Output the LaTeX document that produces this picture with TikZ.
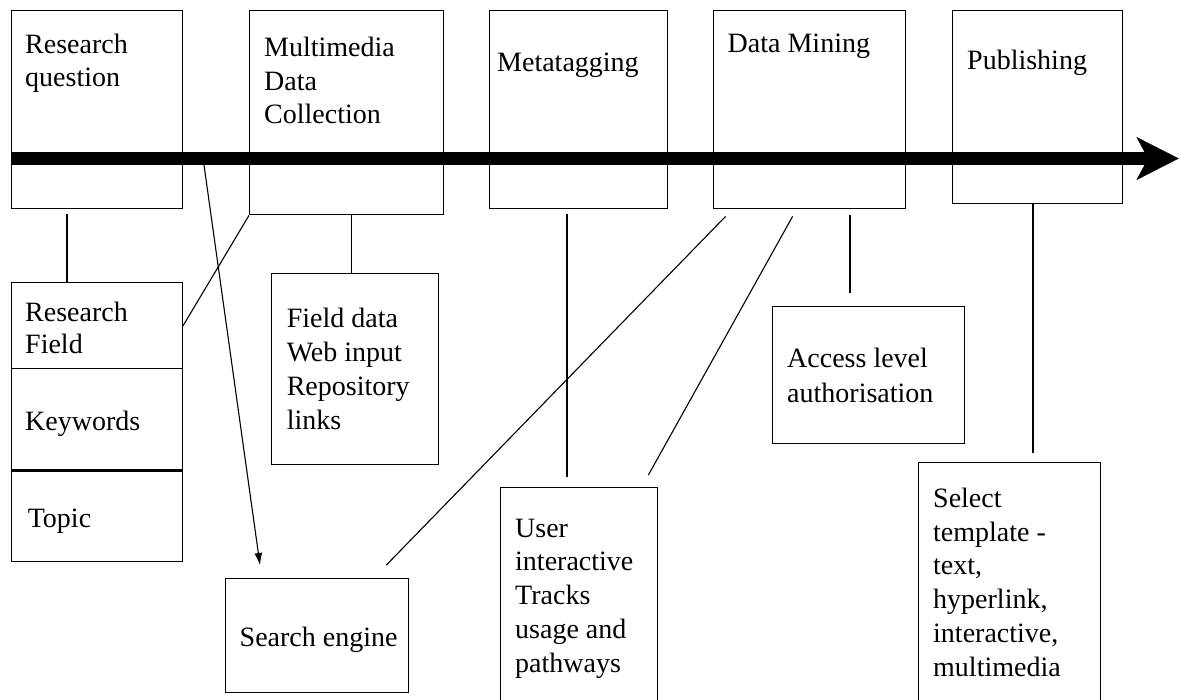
\documentclass[tikz,border=0pt]{standalone}
\usepackage{fontspec}
\setmainfont{Liberation Serif}
\usetikzlibrary{arrows.meta,calc}
\begin{document}
\begin{tikzpicture}[x=1pt,y=-1pt,
  box/.style={draw, line width=1.4pt, rectangle, inner sep=0pt, anchor=north west},
  txt/.style={anchor=base west, align=left, inner sep=0pt, font=\fontsize{28}{33.7}\selectfont},
  conn/.style={line width=1.1pt},
]
\useasboundingbox (0,0) rectangle (1180,700);
% main time line
\coordinate (ta) at (10.5,158.5);
\coordinate (tb) at (1179,158.5);
% top boxes
\node[box, minimum width=171pt, minimum height=198pt] (b1) at (10.7,10) {};
\node[box, minimum width=193.5pt, minimum height=204pt] (b2) at (249,10) {};
\node[box, minimum width=178.5pt, minimum height=198pt] (b3) at (488.5,10) {};
\node[box, minimum width=192pt, minimum height=198pt] (b4) at (713,10) {};
\node[box, minimum width=170.4pt, minimum height=193pt] (b5) at (951.6,10) {};
% (base of a multi-line text = baseline of its last line)
\node[txt] (t1) at (25,87) {Research\\question};
\node[txt] (t2) at (264,124) {Multimedia\\Data\\Collection};
\node[txt] (t3) at (497,72) {Metatagging};
\node[txt] (t4) at (727.5,53) {Data Mining};
\node[txt] (t5) at (967,70) {Publishing};
\draw[line width=13pt, -{Stealth[length=42pt,width=42pt,inset=11pt]}] (ta) -- (tb);
% lower boxes
\node[box, minimum width=171pt, minimum height=86pt] (rf1) at (10.7,282) {};
\node[box, minimum width=171pt, minimum height=101pt] (rf2) at (10.7,368) {};
\node[box, minimum width=171pt, minimum height=92pt] (rf3) at (10.7,469) {};
\draw[line width=2.6pt] (rf2.south west) -- (rf2.south east);
\node[txt, font=\fontsize{28}{32}\selectfont] (t6) at (25,353) {Research\\Field};
\node[txt] (t7) at (25,430) {Keywords};
\node[txt] (t8) at (27.6,527) {Topic};
\node[box, minimum width=167pt, minimum height=191pt] (fd) at (271,273) {};
\node[txt] (t9) at (286.6,429) {Field data\\Web input\\Repository\\links};
\node[box, minimum width=183pt, minimum height=114pt] (se) at (225,578) {};
\node[txt] (t10) at (239.5,646) {Search engine};
\node[box, minimum width=157pt, minimum height=222pt] (ui) at (500,487) {};
\node[txt] (t11) at (515,672) {User\\interactive\\Tracks\\usage and\\pathways};
\node[box, minimum width=192.4pt, minimum height=137pt] (al) at (771.6,306) {};
\node[txt, font=\fontsize{28}{35}\selectfont] (t12) at (787,402) {Access level\\authorisation};
\node[box, minimum width=182pt, minimum height=245pt] (st) at (918,462) {};
\node[txt] (t13) at (933,676) {Select\\template -\\text,\\hyperlink,\\interactive,\\multimedia};
% connectors
\coordinate (c1) at (67,0);
\coordinate (c2) at (351.7,0);
\coordinate (c3) at (567,0);
\coordinate (c4) at (850,0);
\coordinate (c5) at (1033,0);
\coordinate (as) at (204,165);
\draw[conn, shorten <=5pt] (b1.south -| c1) -- (rf1.north -| c1);
\draw[conn] (rf1.east) -- (b2.south west);
\draw[conn, -{Latex[length=12pt,width=8pt]}] (as) -- ($(se.north west)+(35,-13)$);
\draw[conn] (b2.south -| c2) -- (fd.north -| c2);
\draw[conn] ($(se.north east)+(-23,-13)$) -- ($(b4.south west)+(12.6,7)$);
\draw[conn, shorten <=5pt, shorten >=10pt] (b3.south -| c3) -- (ui.north -| c3);
\draw[conn] ($(b4.south west)+(79.6,7)$) -- ($(ui.north east)+(-10,-12)$);
\draw[conn, shorten <=6pt, shorten >=13pt] (b4.south -| c4) -- (al.north -| c4);
\draw[conn, shorten >=9pt] (b5.south -| c5) -- (st.north -| c5);
\end{tikzpicture}
\end{document}
